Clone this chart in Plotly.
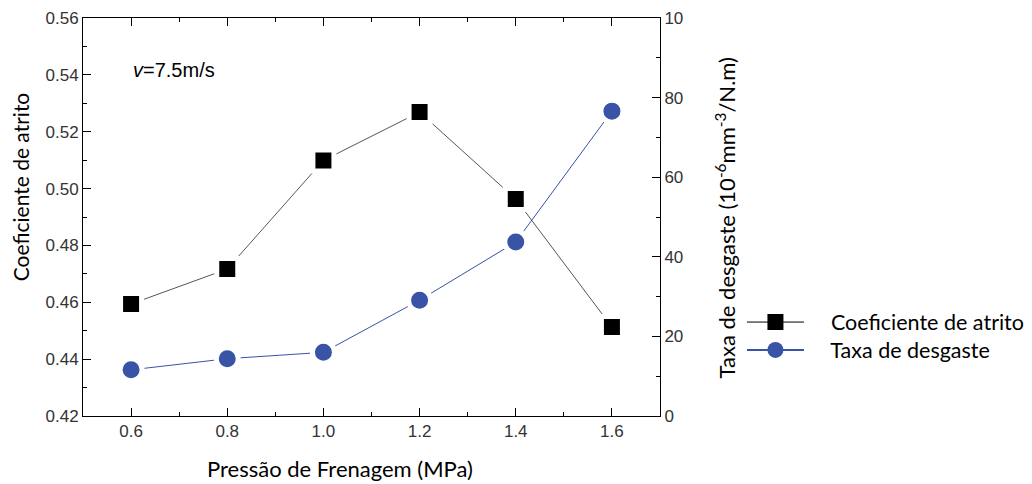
import plotly.graph_objects as go

pressao = [0.6, 0.8, 1.0, 1.2, 1.4, 1.6]
coef_atrito = [0.4594, 0.4717, 0.5099, 0.5269, 0.4963, 0.4513]
taxa_desgaste = [11.6, 14.4, 16.0, 29.1, 43.7, 76.6]

x_ticks = [0.6, 0.8, 1.0, 1.2, 1.4, 1.6]
x_ticktext = ["0.6", "0.8", "1.0", "1.2", "1.4", "1.6"]
y1_ticks = [0.42, 0.44, 0.46, 0.48, 0.50, 0.52, 0.54, 0.56]
y1_ticktext = ["0.42", "0.44", "0.46", "0.48", "0.50", "0.52", "0.54", "0.56"]
y2_ticks = [0, 20, 40, 60, 80, 100]
y2_ticktext = ["0", "20", "40", "60", "80", "10"]

series_names = ["Coeficiente de atrito", "Taxa de desgaste"]

BLUE = "#3953a6"
TICKFONT = dict(family="Liberation Sans, Arial, sans-serif", size=17, color="#333333")
TITLEFONT = "Lato, Open Sans, sans-serif"
PAD = "\u00a0" * 4

fig = go.Figure()
fig.add_trace(go.Scatter(
    x=pressao, y=coef_atrito, name=series_names[0], mode="lines+markers",
    line=dict(color="#555555", width=1), showlegend=False,
    marker=dict(symbol="square", size=21, color="black", line=dict(color="white", width=5)),
    yaxis="y",
))
fig.add_trace(go.Scatter(
    x=pressao, y=taxa_desgaste, name=series_names[1], mode="lines+markers",
    line=dict(color=BLUE, width=1), showlegend=False,
    marker=dict(symbol="circle", size=22, color=BLUE, line=dict(color="white", width=5)),
    yaxis="y2",
))
# legend entries (no data points drawn)
fig.add_trace(go.Scatter(
    x=[None], y=[None], name=PAD + series_names[0], mode="lines+markers",
    line=dict(color="black", width=1),
    marker=dict(symbol="square", size=16, color="black"),
    legend="legend",
))
fig.add_trace(go.Scatter(
    x=[None], y=[None], name=PAD + series_names[1], mode="lines+markers",
    line=dict(color=BLUE, width=2),
    marker=dict(symbol="circle", size=16, color=BLUE),
    legend="legend2", yaxis="y2",
))

LEG = dict(xanchor="left", yanchor="middle",
           font=dict(family=TITLEFONT, size=21.5, color="black"),
           itemwidth=57, itemsizing="trace", bgcolor="rgba(0,0,0,0)")

# page body adds ~8px offset; plot area is 577 x 398 at (83,18) in the final picture
fig.update_layout(
    width=1024, height=476,
    margin=dict(l=75, r=372, t=10, b=68, autoexpand=False),
    paper_bgcolor="white", plot_bgcolor="white",
    showlegend=True,
    legend=dict(x=1.142, y=0.236, **LEG),
    legend2=dict(x=1.142, y=0.166, **LEG),
    xaxis=dict(range=[0.5, 1.7], tickvals=x_ticks, ticktext=x_ticktext, automargin=False,
               showline=True, linecolor="black", linewidth=1, mirror="ticks",
               ticks="inside", ticklen=8, tickcolor="black", showgrid=False, zeroline=False,
               minor=dict(dtick=0.1, tick0=0.5, ticks="inside", ticklen=4, tickcolor="black", showgrid=False),
               tickfont=TICKFONT),
    yaxis=dict(range=[0.42, 0.56], tickvals=y1_ticks, ticktext=y1_ticktext, automargin=False,
               showline=True, linecolor="black", linewidth=1,
               ticks="inside", ticklen=8, tickcolor="black", showgrid=False, zeroline=False,
               minor=dict(dtick=0.01, tick0=0.42, ticks="inside", ticklen=4, tickcolor="black", showgrid=False),
               tickfont=TICKFONT),
    yaxis2=dict(range=[0, 100], tickvals=y2_ticks, ticktext=y2_ticktext, automargin=False,
                overlaying="y", side="right",
                showline=True, linecolor="black", linewidth=1,
                ticks="inside", ticklen=8, tickcolor="black", showgrid=False, zeroline=False,
                minor=dict(dtick=10, tick0=0, ticks="inside", ticklen=4, tickcolor="black", showgrid=False),
                tickfont=TICKFONT),
    annotations=[
        dict(text="Pressão de Frenagem (MPa)", xref="paper", yref="paper",
             x=0.445, y=-0.131, xanchor="center", yanchor="middle", showarrow=False,
             font=dict(family=TITLEFONT, size=22, color="black")),
        dict(text="Coeficiente de atrito", xref="paper", yref="paper",
             x=-0.109, y=0.575, xanchor="center", yanchor="middle", textangle=-90, showarrow=False,
             font=dict(family=TITLEFONT, size=21, color="black")),
        dict(text="Taxa de desgaste (10<sup>-6</sup>mm<sup>-3</sup>/N.m)", xref="paper", yref="paper",
             x=1.113, y=0.497, xanchor="center", yanchor="middle", textangle=-90, showarrow=False,
             font=dict(family=TITLEFONT, size=22, color="black")),
        dict(text="<i>v</i>=7.5m/s", xref="paper", yref="paper",
             x=0.083, y=0.869, xanchor="left", yanchor="middle", showarrow=False,
             font=dict(family="Liberation Sans, Arial, sans-serif", size=20, color="black")),
    ],
)

fig.write_html("out.html")
